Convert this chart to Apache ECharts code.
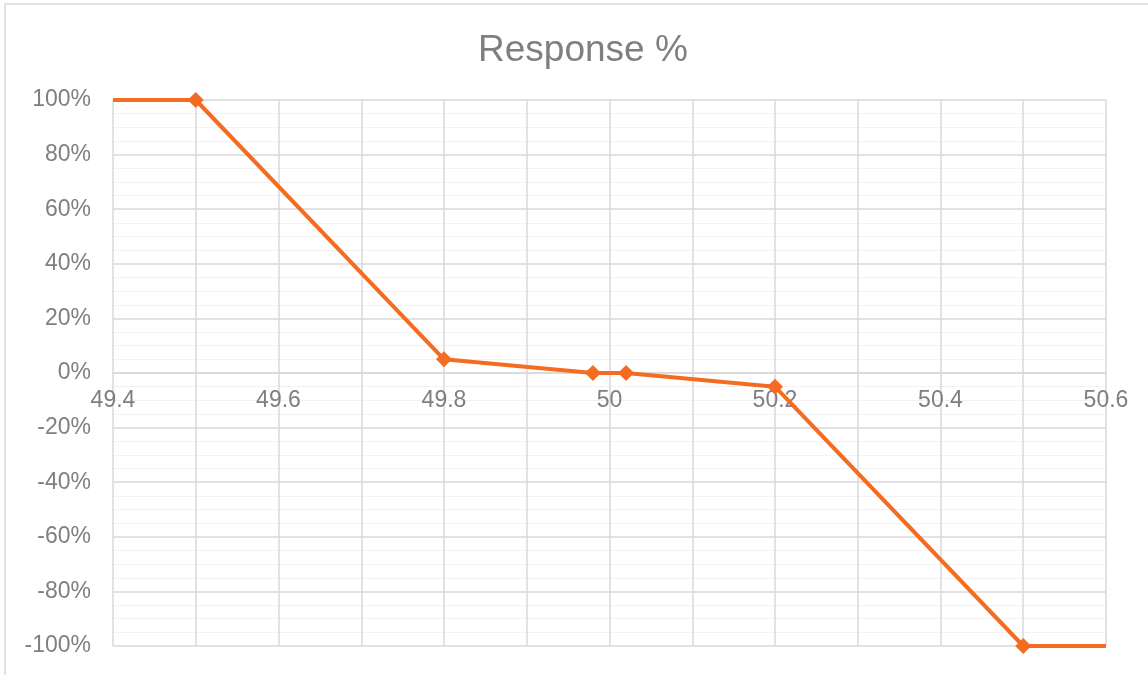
<!DOCTYPE html>
<html>
<head>
<meta charset="utf-8">
<script src="https://cdn.jsdelivr.net/npm/echarts@6/dist/echarts.min.js"></script>
<style>html,body{margin:0;padding:0;background:#fff;}#c{width:1148px;height:675px;}</style>
</head>
<body>
<div id="c"></div>
<script>
const title = 'Response %';
const freq = [49.4, 49.5, 49.8, 49.98, 50.02, 50.2, 50.5, 50.6];
const response = [1, 1, 0.05, 0, 0, -0.05, -1, -1];
const showMarker = [false, true, true, true, true, true, true, false];

const chart = echarts.init(document.getElementById('c'));
const txt = '#7f7f7f';
const data = freq.map((f, i) => ({value: [f, response[i]], symbolSize: showMarker[i] ? 16 : 0}));
chart.setOption({
  animation: false,
  backgroundColor: '#fff',
  title: {text: title, left: 473, top: 27, textStyle: {fontFamily: 'Liberation Sans, Arial', fontSize: 37, fontWeight: 'normal', color: txt}},
  graphic: [{type: 'rect', shape: {x: 5, y: 4, width: 1160, height: 700}, style: {fill: 'none', stroke: '#d9d9d9', lineWidth: 1.5}, silent: true}],
  grid: {left: 113, right: 42, top: 100, bottom: 29, outerBoundsMode: 'none', containLabel: false},
  xAxis: {
    type: 'value', min: 49.4, max: 50.6, interval: 0.2,
    position: 'bottom', offset: -273,
    axisLine: {show: true, onZero: false, lineStyle: {color: '#d9d9d9', width: 1.5}},
    axisTick: {show: false},
    axisLabel: {color: txt, fontSize: 23, fontFamily: 'Liberation Sans, Arial', margin: 16, formatter: v => String(Math.round(v * 10) / 10)},
    splitLine: {show: true, lineStyle: {color: '#d9d9d9', width: 1.5}},
    minorTick: {show: false, splitNumber: 2},
    minorSplitLine: {show: true, lineStyle: {color: '#d9d9d9', width: 1.5}}
  },
  yAxis: {
    type: 'value', min: -1, max: 1, interval: 0.2,
    axisLine: {show: false},
    axisTick: {show: false},
    axisLabel: {color: txt, fontSize: 23, fontFamily: 'Liberation Sans, Arial', margin: 22, formatter: v => Math.round(v * 100) + '%'},
    splitLine: {show: true, lineStyle: {color: '#d9d9d9', width: 1.5}},
    minorTick: {show: false, splitNumber: 4},
    minorSplitLine: {show: true, lineStyle: {color: '#f2f2f2', width: 1.2}}
  },
  series: [{
    type: 'line', data: data, symbol: 'diamond',
    lineStyle: {color: '#F36C21', width: 4},
    itemStyle: {color: '#F36C21'},
    clip: false, z: 5
  }]
});
</script>
</body>
</html>
